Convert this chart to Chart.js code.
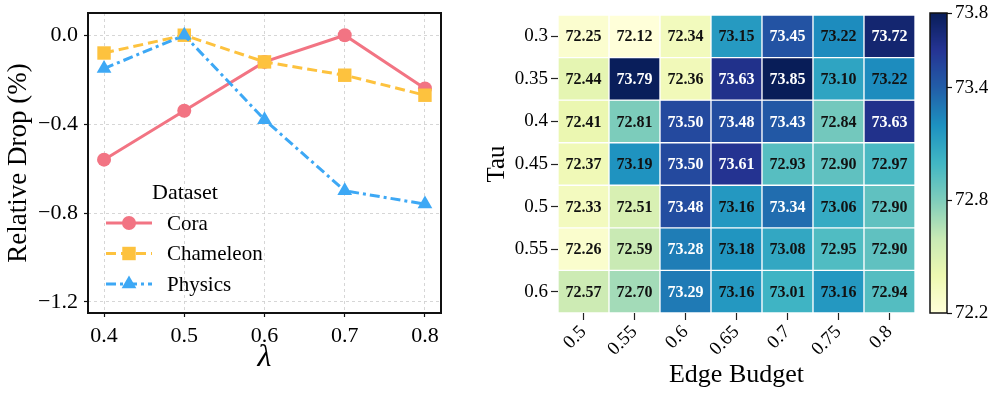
<!DOCTYPE html>
<html>
<head>
<meta charset="utf-8">
<title>Relative drop vs lambda / Tau x Edge Budget heatmap</title>
<script src="https://cdn.jsdelivr.net/npm/chart.js@4.4.1/dist/chart.umd.min.js"></script>
<style>
  html, body { margin: 0; padding: 0; background: #fff; }
  #wrap { position: relative; width: 996px; height: 395px; overflow: hidden; }
  canvas { position: absolute; top: 0; }
  #lineChart { left: 0; }
  #heatChart { left: 470px; }
  #cbarChart { left: 920px; }
</style>
</head>
<body>
<div id="wrap">
  <canvas id="lineChart" width="460" height="395"></canvas>
  <canvas id="heatChart" width="455" height="395"></canvas>
  <canvas id="cbarChart" width="76" height="395"></canvas>
</div>
<script>
// Left panel: relative drop (%) vs lambda
const lambdas = [0.4, 0.5, 0.6, 0.7, 0.8];
const coraDrop = [-0.56, -0.34, -0.12, 0.0, -0.24];
const chameleonDrop = [-0.08, 0.0, -0.12, -0.18, -0.27];
const physicsDrop = [-0.15, 0.0, -0.38, -0.70, -0.76];
const dropTicks = [0.0, -0.4, -0.8, -1.2];

// Right panel: accuracy heatmap, rows = Tau, columns = Edge Budget
const edgeBudgets = ['0.5', '0.55', '0.6', '0.65', '0.7', '0.75', '0.8'];
const taus = ['0.3', '0.35', '0.4', '0.45', '0.5', '0.55', '0.6'];
const accRow03 = [72.25, 72.12, 72.34, 73.15, 73.45, 73.22, 73.72];
const accRow035 = [72.44, 73.79, 72.36, 73.63, 73.85, 73.10, 73.22];
const accRow04 = [72.41, 72.81, 73.50, 73.48, 73.43, 72.84, 73.63];
const accRow045 = [72.37, 73.19, 73.50, 73.61, 72.93, 72.90, 72.97];
const accRow05 = [72.33, 72.51, 73.48, 73.16, 73.34, 73.06, 72.90];
const accRow055 = [72.26, 72.59, 73.28, 73.18, 73.08, 72.95, 72.90];
const accRow06 = [72.57, 72.70, 73.29, 73.16, 73.01, 73.16, 72.94];
const accRows = [accRow03, accRow035, accRow04, accRow045, accRow05, accRow055, accRow06];
const colorbarTicks = [72.2, 72.8, 73.4, 73.8];
const vMin = 72.2;
const vMax = 73.8;
const whiteTextAbove = 73.25;

const serif = "'Liberation Serif', 'Times New Roman', serif";
Chart.defaults.font.family = serif;
Chart.defaults.color = '#000';

// YlGnBu colormap
const ylgnbu = ['#ffffd9', '#edf8b1', '#c7e9b4', '#7fcdbb', '#41b6c4', '#1d91c0', '#225ea8', '#253494', '#081d58'];

function hexToRgb(h) {
    return [1, 3, 5].map(i => parseInt(h.substr(i, 2), 16));
}

function cmap(v) {
    let t = (v - vMin) / (vMax - vMin);
    t = Math.max(0, Math.min(1, t)) * (ylgnbu.length - 1);
    const i = Math.min(Math.floor(t), ylgnbu.length - 2);
    const f = t - i;
    const a = hexToRgb(ylgnbu[i]);
    const b = hexToRgb(ylgnbu[i + 1]);
    const c = a.map((ch, k) => Math.round(ch + (b[k] - ch) * f));
    return `rgb(${c[0]},${c[1]},${c[2]})`;
}

function fmtTick(v) {
    return v.toFixed(1).replace('-', '\u2212');
}

function toPoints(ys) {
    return lambdas.map((x, i) => ({ x: x, y: ys[i] }));
}

// keep the plot box where it is: no extra room for half tick labels
function noVerticalPad(s) {
    s.paddingTop = 0;
    s.paddingBottom = 0;
}

function drawMarker(ctx, style, x, y, r, color) {
    ctx.fillStyle = color;
    ctx.beginPath();
    if (style === 'circle') {
        ctx.arc(x, y, r, 0, Math.PI * 2);
    } else if (style === 'rect') {
        const s = r * Math.SQRT1_2;
        ctx.rect(x - s, y - s, 2 * s, 2 * s);
    } else {
        for (let k = 0; k < 3; k++) {
            const a = k * 2 * Math.PI / 3;
            const px = x + Math.sin(a) * r;
            const py = y - Math.cos(a) * r;
            if (k === 0) ctx.moveTo(px, py); else ctx.lineTo(px, py);
        }
        ctx.closePath();
    }
    ctx.fill();
}

/**
 * Legend inside the plot area, no frame
 */
const insideLegend = {
    id: 'insideLegend',
    afterDatasetsDraw(chart) {
        const ctx = chart.ctx;
        const area = chart.chartArea;
        const x0 = area.left + 18;
        const titleY = area.top + 180;
        ctx.save();
        ctx.fillStyle = '#000';
        ctx.textBaseline = 'middle';
        ctx.textAlign = 'center';
        ctx.font = `22px ${serif}`;
        ctx.fillText('Dataset', x0 + 79, titleY);

        ctx.textAlign = 'left';
        ctx.font = `21px ${serif}`;
        chart.data.datasets.forEach((ds, i) => {
            const y = titleY + 30 + i * 30.5;
            ctx.strokeStyle = ds.borderColor;
            ctx.lineWidth = ds.borderWidth;
            ctx.setLineDash(ds.borderDash || []);
            ctx.beginPath();
            ctx.moveTo(x0, y);
            ctx.lineTo(x0 + 46, y);
            ctx.stroke();
            ctx.setLineDash([]);
            drawMarker(ctx, ds.pointStyle, x0 + 23, y, ds.pointRadius, ds.borderColor);
            ctx.fillStyle = '#000';
            ctx.fillText(ds.label, x0 + 61, y + 1);
        });
        ctx.restore();
    }
};

/**
 * Black box around the plot area
 */
const frameBox = {
    id: 'frameBox',
    afterDraw(chart) {
        const { left, top, right, bottom } = chart.chartArea;
        const ctx = chart.ctx;
        ctx.save();
        ctx.strokeStyle = '#111';
        ctx.lineWidth = 2;
        ctx.strokeRect(left, top, right - left, bottom - top);
        ctx.restore();
    }
};

/**
 * Value annotations on the heatmap cells
 */
const cellLabels = {
    id: 'cellLabels',
    afterDatasetsDraw(chart) {
        const ctx = chart.ctx;
        ctx.save();
        ctx.font = `bold 16px ${serif}`;
        ctx.textAlign = 'center';
        ctx.textBaseline = 'middle';
        chart.data.datasets.forEach((ds, di) => {
            chart.getDatasetMeta(di).data.forEach((bar, j) => {
                const p = bar.getProps(['x', 'y', 'base'], true);
                const v = accRows[di][j];
                ctx.fillStyle = v > whiteTextAbove ? '#fff' : '#111';
                ctx.fillText(v.toFixed(2), p.x, (p.y + p.base) / 2 + 1);
            });
        });
        ctx.restore();
    }
};

/**
 * Gradient fill of the colorbar, pixel row by pixel row
 */
const colorbarFill = {
    id: 'colorbarFill',
    beforeDatasetsDraw(chart) {
        const ctx = chart.ctx;
        const { left, top, right, bottom } = chart.chartArea;
        const scale = chart.scales.y;
        ctx.save();
        for (let py = Math.floor(top); py < bottom; py++) {
            ctx.fillStyle = cmap(scale.getValueForPixel(py + 0.5));
            ctx.fillRect(left, py, right - left, 1);
        }
        ctx.strokeStyle = '#111';
        ctx.lineWidth = 1.5;
        ctx.strokeRect(left, top, right - left, bottom - top);
        ctx.restore();
    }
};

// ---- line chart ----
new Chart(document.getElementById('lineChart'), {
    type: 'line',
    data: {
        datasets: [
            {
                label: 'Cora', data: toPoints(coraDrop),
                borderColor: '#F27483', backgroundColor: '#F27483',
                borderWidth: 3, pointStyle: 'circle', pointRadius: 7,
                pointBorderWidth: 0, order: 3
            },
            {
                label: 'Chameleon', data: toPoints(chameleonDrop),
                borderColor: '#FDC23E', backgroundColor: '#FDC23E',
                borderWidth: 3, borderDash: [10, 5], pointStyle: 'rect', pointRadius: 9.5,
                pointBorderWidth: 0, order: 2
            },
            {
                label: 'Physics', data: toPoints(physicsDrop),
                borderColor: '#3DA8F5', backgroundColor: '#3DA8F5',
                borderWidth: 3, borderDash: [10, 4, 3, 4], pointStyle: 'triangle', pointRadius: 8.5,
                pointBorderWidth: 0, order: 1
            }
        ]
    },
    options: {
        responsive: false,
        animation: false,
        events: [],
        layout: { padding: { top: 13, right: 19, left: 0, bottom: 0 } },
        plugins: { legend: { display: false }, tooltip: { enabled: false } },
        elements: { line: { tension: 0, fill: false } },
        scales: {
            x: {
                type: 'linear', min: 0.38, max: 0.82,
                afterBuildTicks: s => { s.ticks = lambdas.map(v => ({ value: v })); },
                afterFit: s => { s.height = 82; },
                ticks: { font: { size: 22 }, padding: 6, maxRotation: 0, callback: v => v.toFixed(1) },
                grid: { color: '#d2d2d2', lineWidth: 0.9, tickColor: '#111', tickLength: 4, tickWidth: 1.2 },
                border: { display: false, dash: [3, 3] },
                title: { display: true, text: 'λ', font: { size: 32, style: 'italic' }, padding: { top: 0, bottom: 18 } }
            },
            y: {
                type: 'linear', min: -1.25, max: 0.1,
                afterBuildTicks: s => { s.ticks = dropTicks.map(v => ({ value: v })); },
                afterFit: s => { s.width = 88; noVerticalPad(s); },
                ticks: { font: { size: 22 }, padding: 6, callback: v => fmtTick(v) },
                grid: { color: '#d2d2d2', lineWidth: 0.9, tickColor: '#111', tickLength: 4, tickWidth: 1.2 },
                border: { display: false, dash: [3, 3] },
                title: { display: true, text: 'Relative Drop (%)', font: { size: 27 }, padding: { top: 3, bottom: 0 } }
            }
        }
    },
    plugins: [insideLegend, frameBox]
});

// ---- heatmap: one floating-bar dataset per Tau row ----
const heatDatasets = accRows.map((row, r) => ({
    label: taus[r],
    data: row.map(() => [r - 0.5, r + 0.5]),
    backgroundColor: row.map(cmap),
    borderColor: '#ffffff',
    borderWidth: 1,
    borderSkipped: false,
    barPercentage: 1,
    categoryPercentage: 1,
    grouped: false
}));

new Chart(document.getElementById('heatChart'), {
    type: 'bar',
    data: { labels: edgeBudgets, datasets: heatDatasets },
    options: {
        responsive: false,
        animation: false,
        events: [],
        layout: { padding: { top: 15, right: 10, left: 0, bottom: 0 } },
        plugins: { legend: { display: false }, tooltip: { enabled: false } },
        scales: {
            x: {
                offset: true,
                afterFit: s => { s.height = 82; },
                ticks: { font: { size: 19 }, minRotation: 45, maxRotation: 45, autoSkip: false, padding: 1 },
                grid: { offset: false, drawOnChartArea: false, tickColor: '#222', tickLength: 7, tickWidth: 1.2 },
                border: { display: false },
                title: { display: true, text: 'Edge Budget', font: { size: 26 }, padding: { top: 0, bottom: 4 } }
            },
            y: {
                type: 'linear', min: -0.5, max: 6.5, reverse: true,
                afterBuildTicks: s => { s.ticks = taus.map((_, i) => ({ value: i })); },
                afterFit: s => { s.width = 88; noVerticalPad(s); },
                ticks: { font: { size: 19 }, padding: 3, callback: v => taus[v] },
                grid: { drawOnChartArea: false, tickColor: '#222', tickLength: 7, tickWidth: 1.2 },
                border: { display: false },
                title: { display: true, text: 'Tau', font: { size: 25 }, padding: { top: 12, bottom: 0 } }
            }
        }
    },
    plugins: [cellLabels]
});

// ---- colorbar ----
new Chart(document.getElementById('cbarChart'), {
    type: 'scatter',
    data: { datasets: [] },
    options: {
        responsive: false,
        animation: false,
        events: [],
        layout: { padding: { top: 13, right: 0, left: 10, bottom: 82 } },
        plugins: { legend: { display: false }, tooltip: { enabled: false } },
        scales: {
            x: { display: false },
            y: {
                position: 'right', min: vMin, max: vMax,
                afterBuildTicks: s => { s.ticks = colorbarTicks.map(v => ({ value: v })); },
                afterFit: s => { s.width = 49; noVerticalPad(s); },
                ticks: { font: { size: 19 }, padding: 3, callback: v => v.toFixed(1) },
                grid: { drawOnChartArea: false, tickColor: '#111', tickLength: 5, tickWidth: 1.2 },
                border: { display: false }
            }
        }
    },
    plugins: [colorbarFill]
});
</script>
</body>
</html>
